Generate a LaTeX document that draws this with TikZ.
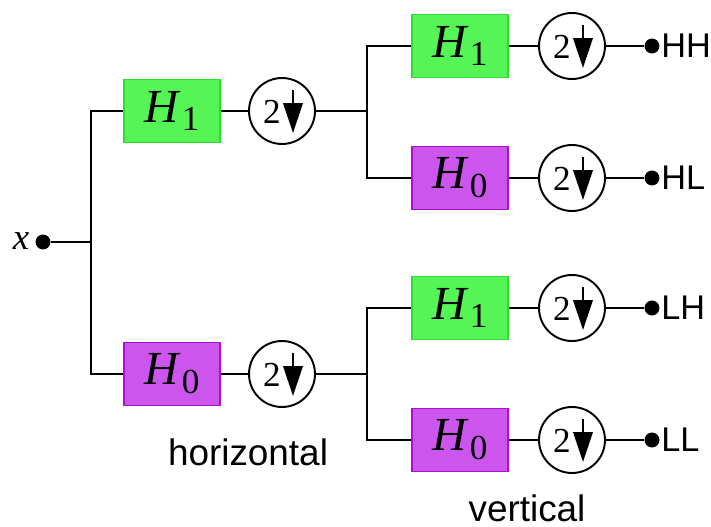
\documentclass[tikz,border=0pt]{standalone}
\usepackage{fontspec}
\setmainfont{Liberation Serif}
\setsansfont{Liberation Sans}
\usetikzlibrary{arrows.meta}
\definecolor{filtgreen}{HTML}{55F555}
\definecolor{filtgreenD}{HTML}{2FDC2F}
\definecolor{filtpurple}{HTML}{CC55EE}
\definecolor{filtpurpleD}{HTML}{AA11CC}
\newcommand{\Hf}[1]{\textit{H}\kern0.5pt\raisebox{-5pt}{\fontsize{20}{20}\selectfont #1}}

\begin{document}
\begin{tikzpicture}[x=0.02cm, y=-0.02cm, line width=1.1pt,
  hbox/.style={rectangle, line width=1.1pt, minimum width=1.92cm, minimum height=1.26cm, inner sep=0pt, font=\fontsize{27}{27}\selectfont},
  hone/.style={hbox, draw=filtgreenD, fill=filtgreen},
  hzero/.style={hbox, draw=filtpurpleD, fill=filtpurple},
  down/.style={circle, draw, line width=1.1pt, minimum size=1.32cm, inner sep=0pt},
  dot/.style={circle, fill, minimum size=8.5pt, inner sep=0pt},
  outlbl/.style={font=\sffamily\fontsize{19.5}{19.5}\selectfont, inner sep=0pt, anchor=west},
  stagelbl/.style={font=\sffamily\fontsize{21}{21}\selectfont, inner sep=1pt},
]
\useasboundingbox (0,0) rectangle (711,527);

% input
\node[dot] (in) at (43,242) {};
\node[font=\itshape\fontsize{21}{21}\selectfont] (xlbl) at (21,241) {x};
\coordinate (br0) at (91,242);

% horizontal stage
\node[hone] (hH) at (172,111) {\Hf{1}};
\node[down] (dH) at (282,111) {};
\coordinate (brH) at (367,111);
\node[hzero] (hL) at (172,374) {\Hf{0}};
\node[down] (dL) at (282,374) {};
\coordinate (brL) at (367,374);

% vertical stage
\node[hone]  (vHH) at (460,46)  {\Hf{1}};
\node[hzero] (vHL) at (460,178) {\Hf{0}};
\node[hone]  (vLH) at (460,308) {\Hf{1}};
\node[hzero] (vLL) at (460,440) {\Hf{0}};
\node[down] (dHH) at (572,46)  {};
\node[down] (dHL) at (572,178) {};
\node[down] (dLH) at (572,308) {};
\node[down] (dLL) at (572,440) {};

% outputs
\node[dot] (oHH) at (652,46)  {};
\node[dot] (oHL) at (652,178) {};
\node[dot] (oLH) at (652,308) {};
\node[dot] (oLL) at (652,440) {};
\node[outlbl] (tHH) at (oHH.east) {HH};
\node[outlbl] (tHL) at (oHL.east) {HL};
\node[outlbl] (tLH) at (oLH.east) {LH};
\node[outlbl] (tLL) at (oLL.east) {LL};

\node[stagelbl] (horiz) at (248,452) {horizontal};
\node[stagelbl] (vert) at (527,508) {vertical};

% connections
\draw (in) -- (br0);
\draw (br0) |- (hH);
\draw (br0) |- (hL);
\draw (hH) -- (dH);
\draw (dH) -- (brH);
\draw (hL) -- (dL);
\draw (dL) -- (brL);
\draw (brH) |- (vHH);
\draw (brH) |- (vHL);
\draw (brL) |- (vLH);
\draw (brL) |- (vLL);
\draw (vHH) -- (dHH) -- (oHH);
\draw (vHL) -- (dHL) -- (oHL);
\draw (vLH) -- (dLH) -- (oLH);
\draw (vLL) -- (dLL) -- (oLL);

% the 2 and the down arrow in each downsampler
\foreach \d in {dH,dL,dHH,dHL,dLH,dLL} {
  \node[font=\fontsize{20}{20}\selectfont, inner sep=0pt] (\d two) at ([shift={(-10,1)}]\d.center) {2};
  \draw[line width=1.4pt, -{Triangle[length=17pt, width=11pt]}] ([shift={(11,-21)}]\d.center) -- ++(0,43);
}
\end{tikzpicture}
\end{document}
